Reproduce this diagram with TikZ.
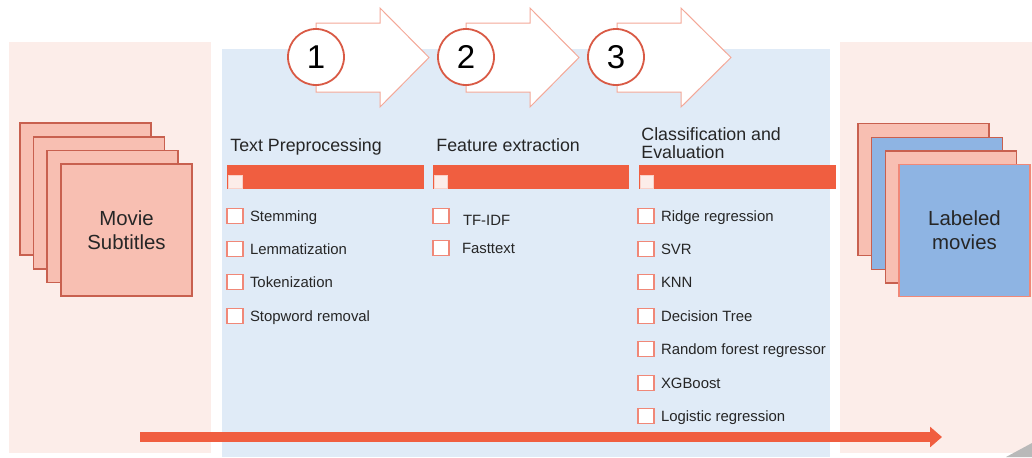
\documentclass[tikz,border=0pt]{standalone}
\usepackage{fontspec}
\setmainfont{Liberation Sans}
\usetikzlibrary{positioning, arrows.meta}

\definecolor{panelPink}{RGB}{252,237,233}
\definecolor{panelBlue}{RGB}{224,235,247}
\definecolor{sheetPink}{RGB}{248,191,178}
\definecolor{sheetBlue}{RGB}{142,180,227}
\definecolor{sheetLine}{RGB}{200,96,79}
\definecolor{barOrange}{RGB}{240,94,64}
\definecolor{ringRed}{RGB}{217,90,69}
\definecolor{chevLine}{RGB}{244,168,152}
\definecolor{boxLine}{RGB}{240,136,120}

\tikzset{
  sheet/.style={draw=sheetLine, fill=sheetPink, line width=0.6pt, minimum width=65.5pt, minimum height=66pt, inner sep=0pt},
  stepring/.style={circle, draw=ringRed, fill=white, line width=0.9pt, minimum size=28pt, inner sep=0pt, font=\fontsize{16.5}{18}\selectfont},
  chevron/.style={draw=chevLine, fill=white, line width=0.5pt},
  header/.style={inner sep=0pt, anchor=base west, font=\fontsize{8.9}{8.6}\selectfont, text=black!85},
  checkbox/.style={draw=boxLine, fill=white, line width=0.6pt, minimum width=8pt, minimum height=7.5pt, inner sep=0pt},
  itemtext/.style={inner sep=0pt, text height=5.8pt, text depth=1.5pt, font=\fontsize{7.45}{9}\selectfont, text=black!85},
  sheetlabel/.style={align=center, font=\fontsize{10.2}{12}\selectfont, text=black!85},
  minibox/.style={fill=panelPink, draw=panelPink!80!barOrange, line width=0.3pt}
}

\begin{document}
\begin{tikzpicture}[x=0.5pt, y=-0.5pt]

\useasboundingbox (0,0) rectangle (1032,457);

% background panels
\fill[panelPink] (9,42) rectangle (211,453);
\fill[panelBlue] (222,49) rectangle (830,457);
\fill[panelPink] (840,42) rectangle (1032,453);

% page corner
\fill[gray!55] (1006,457) -- (1032,443) -- (1032,457) -- cycle;

% Step chevrons
\draw[chevron] (316,23) -- (380,23) -- (380,8) -- (429,57.5) -- (380,107) -- (380,92) -- (316,92) -- cycle;
\draw[chevron] (466,23) -- (530,23) -- (530,8) -- (579,57.5) -- (530,107) -- (530,92) -- (466,92) -- cycle;
\draw[chevron] (617,23) -- (681,23) -- (681,8) -- (731,57.5) -- (681,107) -- (681,92) -- (617,92) -- cycle;

% Step numbers
\node[stepring] (stepOne) at (316,57) {1};
\node[stepring] (stepTwo) at (466,57) {2};
\node[stepring] (stepThree) at (616,57) {3};

% Column headers
\node[header] (prepHead) at (230,151) {Text Preprocessing};
\node[header] (featHead) at (436,151) {Feature extraction};
\node[header, align=left] (clasHead) at (641,158) {Classification and\\Evaluation};

% Orange bars
\fill[barOrange] (227,165) rectangle (424,189);
\fill[barOrange] (433,165) rectangle (629,189);
\fill[barOrange] (639,165) rectangle (836,189);
\draw[minibox] (228,175) rectangle (242,188);
\draw[minibox] (434,175) rectangle (447,188);
\draw[minibox] (640,175) rectangle (653,188);

% Text preprocessing items
\node[checkbox] (prepA) at (235,216) {};
\node[checkbox] (prepB) at (235,249) {};
\node[checkbox] (prepC) at (235,282) {};
\node[checkbox] (prepD) at (235,316) {};
\node[itemtext, right=3pt of prepA, yshift=-0.5pt] (prepAtext) {Stemming};
\node[itemtext, right=3pt of prepB, yshift=-0.5pt] (prepBtext) {Lemmatization};
\node[itemtext, right=3pt of prepC, yshift=-0.5pt] (prepCtext) {Tokenization};
\node[itemtext, right=3pt of prepD, yshift=-0.5pt] (prepDtext) {Stopword removal};

% Feature extraction items
\node[checkbox] (featA) at (441,216) {};
\node[checkbox] (featB) at (441,248) {};
\node[itemtext, right=6.5pt of featA, yshift=-2.5pt] (featAtext) {TF-IDF};
\node[itemtext, right=6pt of featB, yshift=-0.5pt] (featBtext) {Fasttext};

% Classification items
\node[checkbox] (clasA) at (646,216) {};
\node[checkbox] (clasB) at (646,249) {};
\node[checkbox] (clasC) at (646,282) {};
\node[checkbox] (clasD) at (646,316) {};
\node[checkbox] (clasE) at (646,349) {};
\node[checkbox] (clasF) at (646,383) {};
\node[checkbox] (clasG) at (646,416) {};
\node[itemtext, right=3pt of clasA, yshift=-0.5pt] (clasAtext) {Ridge regression};
\node[itemtext, right=3pt of clasB, yshift=-0.5pt] (clasBtext) {SVR};
\node[itemtext, right=3pt of clasC, yshift=-0.5pt] (clasCtext) {KNN};
\node[itemtext, right=3pt of clasD, yshift=-0.5pt] (clasDtext) {Decision Tree};
\node[itemtext, right=3pt of clasE, yshift=-0.5pt] (clasEtext) {Random forest regressor};
\node[itemtext, right=3pt of clasF, yshift=-0.5pt] (clasFtext) {XGBoost};
\node[itemtext, right=3pt of clasG, yshift=-0.5pt] (clasGtext) {Logistic regression};

% Movie subtitles stack
\node[sheet] (subsA) at (85.5,189) {};
\node[sheet] (subsB) at (99,203) {};
\node[sheet] (subsC) at (112.5,216.5) {};
\node[sheet, sheetlabel] (subsD) at (126.5,230) {Movie\\Subtitles};

% Labeled movies stack
\node[sheet] (labA) at (923.5,189.5) {};
\node[sheet, fill=sheetBlue] (labB) at (937,203.5) {};
\node[sheet] (labC) at (951,217) {};
\node[sheet, sheetlabel, fill=sheetBlue, draw=boxLine] (labD) at (964.5,230.5) {Labeled\\movies};

% Flow arrow
\coordinate (flowStart) at (140,437);
\coordinate (flowEnd) at (942,437);
\draw[barOrange, line width=5pt, -{Triangle[width=10pt, length=6pt]}] (flowStart) -- (flowEnd);

\end{tikzpicture}
\end{document}
